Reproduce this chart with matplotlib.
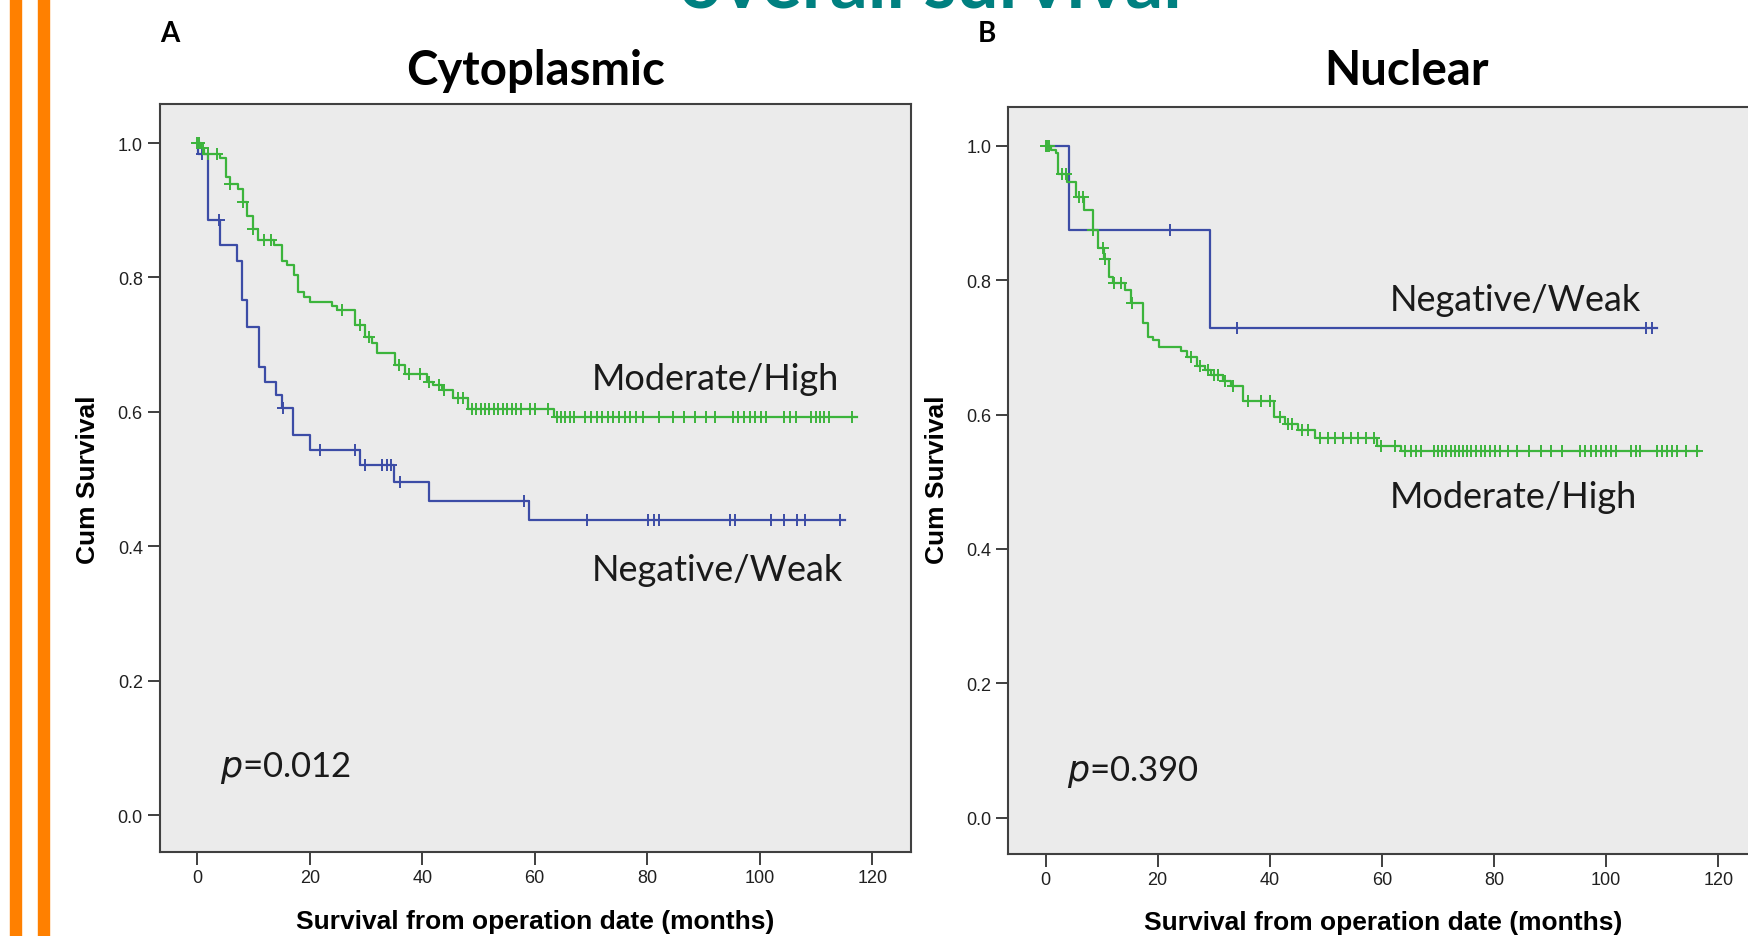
"""
Kaplan-Meier curves: cytoplasmic vs nuclear staining, overall survival
"""
import numpy as np
from matplotlib import pyplot as plt
from matplotlib.patches import Rectangle

# Panel A - Cytoplasmic
a_high_t = [0.6, 1.2, 4.0, 5.1, 5.8, 7.3, 8.1, 8.9, 10.0, 10.8, 13.6, 15.0, 15.9, 17.2, 18.0, 19.0,
            20.0, 23.9, 24.8, 28.0, 29.8, 31.0, 32.0, 35.2, 37.0, 40.8, 42.0, 43.5, 45.5, 48.1, 63.5]
a_high_s = [0.993, 0.984, 0.977, 0.949, 0.939, 0.932, 0.912, 0.892, 0.872, 0.855, 0.848, 0.825, 0.818,
            0.803, 0.778, 0.771, 0.763, 0.758, 0.751, 0.729, 0.712, 0.702, 0.687, 0.669, 0.657, 0.645,
            0.640, 0.632, 0.620, 0.604, 0.592]
a_high_cens = [0.0, 0.3, 1.0, 2.0, 3.5, 5.8, 8.1, 10.0, 11.8, 13.1, 25.7, 28.9, 30.5, 35.8, 37.6, 39.6,
               41.2, 43.0, 43.9, 46.4, 47.3, 48.8, 49.6, 50.4, 51.2, 51.9, 52.7, 53.5, 54.3, 55.1, 55.9,
               56.7, 57.5, 59.1, 60.0, 62.3, 63.9, 64.6, 65.4, 66.2, 67.0, 69.0, 70.0, 71.0, 72.0, 73.0,
               74.0, 75.0, 76.0, 77.0, 78.0, 79.3, 82.1, 84.5, 86.5, 88.5, 90.5, 92.0, 95.2, 96.2, 97.2,
               98.2, 99.2, 100.2, 101.2, 104.4, 105.4, 106.4, 109.1, 110.0, 110.7, 111.5, 112.3, 116.4]
a_high_end = 117.3

a_low_t = [0.2, 2.0, 4.0, 7.1, 8.0, 8.9, 11.0, 12.0, 14.0, 15.0, 17.0, 20.0, 28.9, 35.0, 41.2, 59.0]
a_low_s = [0.984, 0.885, 0.848, 0.825, 0.766, 0.726, 0.667, 0.645, 0.625, 0.606, 0.565, 0.543, 0.521,
           0.495, 0.467, 0.439]
a_low_cens = [0.8, 3.8, 15.2, 21.9, 28.1, 29.9, 32.9, 33.7, 34.5, 36.0, 58.1, 69.3, 80.1, 81.2, 82.1,
              94.8, 95.6, 102.0, 104.4, 106.7, 108.0, 114.3]
a_low_end = 115.2

# Panel B - Nuclear
b_high_t = [1.0, 1.8, 2.2, 3.9, 5.4, 6.8, 8.4, 9.3, 10.5, 11.4, 12.0, 14.1, 15.3, 17.4, 18.3, 19.2,
            20.3, 24.2, 25.3, 27.0, 28.5, 29.6, 31.6, 33.0, 35.3, 40.8, 42.8, 45.0, 48.1, 59.2, 63.4]
b_high_s = [0.994, 0.989, 0.959, 0.947, 0.924, 0.905, 0.875, 0.848, 0.831, 0.805, 0.796, 0.785, 0.766,
            0.736, 0.716, 0.711, 0.700, 0.694, 0.686, 0.672, 0.667, 0.659, 0.650, 0.643, 0.620, 0.597,
            0.586, 0.577, 0.565, 0.554, 0.546]
b_high_cens = [0.0, 0.3, 0.7, 3.0, 3.6, 6.0, 6.6, 8.5, 10.3, 10.6, 12.3, 13.5, 15.4, 25.9, 27.5, 29.0,
               30.0, 30.8, 32.0, 33.4, 36.2, 38.5, 40.0, 41.8, 43.3, 44.0, 45.7, 46.8, 49.0, 50.3, 51.7,
               53.1, 54.4, 55.8, 57.1, 58.5, 59.9, 62.4, 64.2, 65.1, 66.0, 66.9, 69.3, 70.0, 70.8, 71.5,
               72.3, 73.0, 73.8, 74.5, 75.2, 75.8, 76.7, 77.6, 78.4, 79.3, 80.1, 81.0, 82.4, 84.1, 86.2,
               88.3, 90.1, 92.2, 95.4, 96.3, 97.2, 98.1, 99.0, 99.9, 100.9, 101.8, 104.4, 105.3, 106.1,
               109.1, 110.0, 110.9, 111.8, 112.7, 114.2, 116.2]
b_high_end = 116.5

b_low_t = [4.2, 29.3]
b_low_s = [0.875, 0.729]
b_low_cens = [22.2, 34.2, 107.1, 108.1]
b_low_end = 109.1

x_ticks = [0, 20, 40, 60, 80, 100, 120]
y_ticks = [0.0, 0.2, 0.4, 0.6, 0.8, 1.0]

BLUE = '#3c4ca6'
GREEN = '#3cb43c'
TEXT = 'Lato'


def km_curve(ax, times, surv, cens, end, color):
    """Draw a step survival curve with '+' censor ticks"""
    x = np.array([0.0] + list(times) + [end])
    y = np.array([1.0] + list(surv) + [surv[-1]])
    ax.step(x, y, where='post', color=color, lw=1.6, zorder=3)
    idx = np.searchsorted(x, cens, side='right') - 1
    ax.plot(cens, y[idx], ls='none', marker='+', ms=9, mew=1.4, color=color, zorder=4)


def setup_axes(ax):
    ax.set_facecolor('#ebebeb')
    ax.set_xlim(-6.7, 126.9)
    ax.set_ylim(-0.055, 1.058)
    ax.set_xticks(x_ticks)
    ax.set_yticks(y_ticks)
    ax.set_yticklabels([f'{v:.1f}' for v in y_ticks])
    ax.tick_params(length=9, width=1.3, color='#303030', labelsize=13, pad=3, labelcolor='#202020')
    for lab in ax.get_xticklabels() + ax.get_yticklabels():
        lab.set_family('Liberation Sans')
    for sp in ax.spines.values():
        sp.set_color('#404040')
        sp.set_linewidth(1.5)


def main():
    fig = plt.figure(figsize=(17.49, 9.37), dpi=100)

    # orange slide bars
    for x0 in (10, 38):
        fig.patches.append(Rectangle((x0 / 1749, 0), 11 / 1749, 1, transform=fig.transFigure,
                                     color='#ff8000', zorder=0))

    ax_a = fig.add_axes([0.0912, 0.0896, 0.4297, 0.7983])
    ax_b = fig.add_axes([0.5763, 0.0870, 0.4283, 0.7977])
    setup_axes(ax_a)
    setup_axes(ax_b)

    km_curve(ax_a, a_low_t, a_low_s, a_low_cens, a_low_end, BLUE)
    km_curve(ax_a, a_high_t, a_high_s, a_high_cens, a_high_end, GREEN)
    km_curve(ax_b, b_low_t, b_low_s, b_low_cens, b_low_end, BLUE)
    km_curve(ax_b, b_high_t, b_high_s, b_high_cens, b_high_end, GREEN)

    # group labels and p values
    lab_kw = dict(fontsize=26, family=TEXT, color='#1a1a1a', va='center', ha='left')
    ax_a.text(70.2, 0.650, 'Moderate/High', **lab_kw)
    ax_a.text(70.2, 0.366, 'Negative/Weak', **lab_kw)
    ax_b.text(61.4, 0.772, 'Negative/Weak', **lab_kw)
    ax_b.text(61.4, 0.478, 'Moderate/High', **lab_kw)
    p_kw = dict(lab_kw, fontsize=25)
    ax_a.text(4.0, 0.071, r'$\it{p}$=0.012', **p_kw)
    ax_b.text(3.9, 0.070, r'$\it{p}$=0.390', **p_kw)

    # panel titles and letters
    fig.text(0.532, 0.992, 'overall survival', fontsize=54, family=TEXT, weight='bold',
             color='#008080', ha='center', va='baseline')
    fig.text(0.097, 0.964, 'A', fontsize=20, family=TEXT, weight='bold', ha='center', va='center')
    fig.text(0.564, 0.964, 'B', fontsize=20, family=TEXT, weight='bold', ha='center', va='center')
    fig.text(0.306, 0.924, 'Cytoplasmic', fontsize=34, family=TEXT, weight='bold', ha='center', va='center')
    fig.text(0.804, 0.924, 'Nuclear', fontsize=34, family=TEXT, weight='bold', ha='center', va='center')

    # axis labels
    for xc in (0.0503, 0.5357):
        fig.text(xc, 0.488, 'Cum Survival', fontsize=19, family='Liberation Sans', weight='bold',
                 rotation=90, ha='center', va='center')
    fig.text(0.306, 0.016, 'Survival from operation date (months)', fontsize=19,
             family='Liberation Sans', weight='bold', ha='center', va='center')
    fig.text(0.791, 0.015, 'Survival from operation date (months)', fontsize=19,
             family='Liberation Sans', weight='bold', ha='center', va='center')

    fig.savefig('out.png', dpi=100)


if __name__ == '__main__':
    main()
